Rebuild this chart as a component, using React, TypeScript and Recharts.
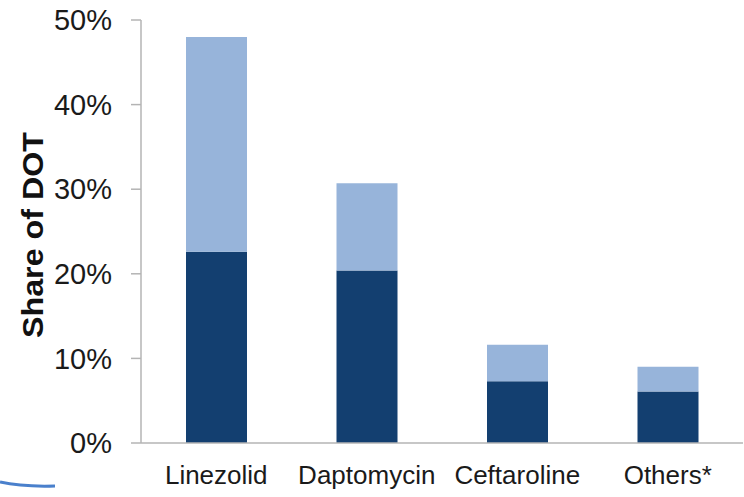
import { BarChart, Bar, XAxis, YAxis } from 'recharts'

const drugs = ['Linezolid', 'Daptomycin', 'Ceftaroline', 'Others*']
const darkShare = [22.6, 20.4, 7.3, 6.1]
const lightShare = [25.4, 10.3, 4.3, 2.9]
const yTicks = [0, 10, 20, 30, 40, 50]
const edgeTicks = [0, 1, 2, 3, 4]

const data = drugs.map((name, i) => ({
  name,
  dark: darkShare[i],
  light: lightShare[i],
}))

const font = 'Arial, "Liberation Sans", sans-serif'
const axisGray = '#b4b4b4'

function YLabel() {
  return (
    <text
      x={43}
      y={235}
      transform="rotate(-90 43 235)"
      textAnchor="middle"
      fontFamily={font}
      fontWeight={700}
      fontSize={29}
      textLength={206}
      lengthAdjust="spacingAndGlyphs"
      fill="#111"
    >
      Share of DOT
    </text>
  )
}

export default function App() {
  return (
    <div style={{ position: 'absolute', left: 0, top: 0, width: 744, height: 497, background: '#fff' }}>
      <BarChart
        width={744}
        height={497}
        data={data}
        margin={{ top: 20, right: 1, bottom: 0, left: 0 }}
      >
        <XAxis
          xAxisId="edges"
          type="number"
          domain={[0, 4]}
          ticks={edgeTicks}
          interval={0}
          height={1}
          tickSize={9}
          tick={false}
          axisLine={{ stroke: axisGray, strokeWidth: 1.5 }}
          tickLine={{ stroke: axisGray, strokeWidth: 1.5 }}
          allowDataOverflow
        />
        <XAxis
          xAxisId="names"
          dataKey="name"
          height={53}
          axisLine={false}
          tickLine={false}
          tickSize={0}
          tickMargin={22}
          tick={{ fontSize: 26, fill: '#1a1a1a', fontFamily: font }}
          interval={0}
        />
        <YAxis
          width={141}
          domain={[0, 50]}
          ticks={yTicks}
          tickFormatter={(v: number) => `${v}%`}
          tickSize={10}
          tickMargin={19}
          tick={{ fontSize: 29, fill: '#1a1a1a', fontFamily: font }}
          axisLine={{ stroke: axisGray, strokeWidth: 1.5 }}
          tickLine={{ stroke: axisGray, strokeWidth: 1.5 }}
          label={<YLabel />}
        />
        <Bar xAxisId="names" dataKey="dark" stackId="a" fill="#133f70" barSize={61} isAnimationActive={false} />
        <Bar xAxisId="names" dataKey="light" stackId="a" fill="#97b4da" barSize={61} isAnimationActive={false} />
      </BarChart>
      <svg width={80} height={20} style={{ position: 'absolute', left: 0, top: 476 }}>
        <path d="M0,6 Q22,11 55,10" stroke="#4a80cc" strokeWidth={3} fill="none" />
      </svg>
    </div>
  )
}
